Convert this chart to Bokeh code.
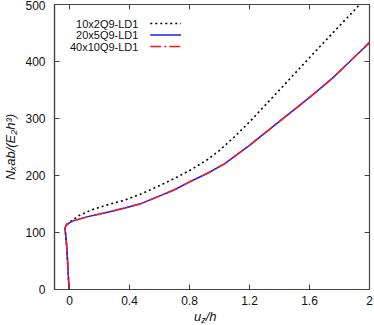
from bokeh.plotting import figure
from bokeh.models import Label, Arrow, FixedTicker, Range1d, Div
from bokeh.layouts import column
from bokeh.embed import file_html
from bokeh.resources import INLINE

# ---- data ----
series_names = ["10x2Q9-LD1", "20x5Q9-LD1", "40x10Q9-LD1"]

x_10x2 = [-0.003, -0.008, -0.013, -0.020, -0.027, -0.030, -0.020, 0.0, 0.065, 0.15, 0.26, 0.37, 0.48,
          0.59, 0.70, 0.81, 0.92, 1.0, 1.1, 1.2, 1.3, 1.414, 1.52, 1.633, 1.78, 1.935]
y_10x2 = [0, 25, 50, 80, 100, 107, 113, 118, 130, 140, 149, 157, 168,
          181, 195, 210, 228, 244, 268, 294, 322, 354, 384, 416, 457, 500]

x_20x5 = [-0.003, -0.008, -0.013, -0.020, -0.027, -0.030, -0.020, 0.02, 0.11, 0.26, 0.37, 0.48, 0.59,
          0.70, 0.81, 0.92, 1.03, 1.2, 1.414, 1.52, 1.633, 1.75, 1.853, 2.0]
y_20x5 = [0, 25, 50, 80, 100, 108, 114, 120, 127, 136, 143, 151, 163,
          175, 190, 204, 220, 253, 298, 320, 344, 370, 396, 433]

x_40x10 = [-0.003, -0.008, -0.013, -0.020, -0.027, -0.030, -0.020, 0.02, 0.11, 0.26, 0.37, 0.48, 0.59,
           0.70, 0.81, 0.92, 1.03, 1.2, 1.414, 1.52, 1.633, 1.75, 1.853, 2.0]
y_40x10 = [0, 25, 50, 80, 100, 108, 114, 120, 127, 136, 143, 151, 163,
           175, 190, 204, 220, 253, 298, 320, 344, 370, 396, 434]

x_ticks = [0, 0.4, 0.8, 1.2, 1.6, 2.0]
x_tick_labels = ["0", "0.4", "0.8", "1.2", "1.6", "2"]
y_ticks = [0, 100, 200, 300, 400, 500]
y_tick_labels = ["0", "100", "200", "300", "400", "500"]

x_label_main, x_label_sub, x_label_tail = "u", "z", "/h"
y_label = "Nₓab/(E₂h³)"

X0, X1, Y0, Y1 = -0.1, 2.0, 0, 500

# ---- styles ----
FONT = "Liberation Sans"
FRAME_COL = "#444444"
TXT = "#111111"
colors = ["#000000", "#1a1aff", "#ff1a1a"]
dashes = ["2 3", "solid", "11 3 2 3"]
widths = [1.6, 1.5, 1.5]

FW, FH = 319, 285  # frame size in px
ML, MR, MT, MB = 50, 5, 4, 20
TICK = 5


def dx(px):
    return X0 + px * (X1 - X0) / FW


def dy(py):
    return Y1 - py * (Y1 - Y0) / FH


p = figure(width=ML + FW + MR, height=MT + FH + MB,
           x_range=Range1d(X0, X1), y_range=Range1d(Y0, Y1),
           output_backend="svg", toolbar_location=None,
           min_border_left=ML, min_border_right=MR,
           min_border_top=MT, min_border_bottom=MB)
p.xgrid.visible = False
p.ygrid.visible = False
p.outline_line_color = FRAME_COL
p.outline_line_width = 1.2
p.background_fill_color = "white"
p.border_fill_color = "white"

for ax, ticks, labels in ((p.xaxis[0], x_ticks, x_tick_labels), (p.yaxis[0], y_ticks, y_tick_labels)):
    ax.ticker = FixedTicker(ticks=ticks)
    ax.major_label_overrides = {t: l for t, l in zip(ticks, labels)}
    ax.major_tick_in = TICK
    ax.major_tick_out = 0
    ax.minor_tick_line_color = None
    ax.axis_line_color = FRAME_COL
    ax.axis_line_width = 1.2
    ax.major_tick_line_color = FRAME_COL
    ax.major_label_text_font = FONT
    ax.major_label_text_font_size = "12px"
    ax.major_label_text_color = TXT
p.xaxis[0].major_label_standoff = 6
p.yaxis[0].major_label_standoff = 9

# y axis label (real text, unicode sub/superscripts)
p.yaxis[0].axis_label = y_label
p.yaxis[0].axis_label_text_font = FONT
p.yaxis[0].axis_label_text_font_size = "13px"
p.yaxis[0].axis_label_text_font_style = "italic"
p.yaxis[0].axis_label_text_color = TXT
p.yaxis[0].axis_label_standoff = 4

# mirrored inward ticks on top and right edges
p.segment(x0=x_ticks, y0=[Y1] * len(x_ticks), x1=x_ticks, y1=[dy(TICK)] * len(x_ticks),
          line_color=FRAME_COL, line_width=1)
p.segment(x0=[X1] * len(y_ticks), y0=y_ticks, x1=[dx(FW - TICK)] * len(y_ticks), y1=y_ticks,
          line_color=FRAME_COL, line_width=1)

# curves
for xs, ys, c, d, w in ((x_10x2, y_10x2, colors[0], dashes[0], widths[0]),
                        (x_20x5, y_20x5, colors[1], dashes[1], widths[1]),
                        (x_40x10, y_40x10, colors[2], dashes[2], widths[2])):
    p.line(xs, ys, line_color=c, line_dash=d, line_width=w, line_join="round")

# legend (text on the left, sample on the right)
rows = [19, 30.5, 42]
for name, c, d, w, r in zip(series_names, colors, dashes, widths, rows):
    p.add_layout(Label(x=dx(85), y=dy(r), text=name, text_align="right", text_baseline="middle",
                       text_font=FONT, text_font_size="11px", text_color=TXT))
    p.add_layout(Arrow(end=None, start=None, x_start=dx(97), y_start=dy(r), x_end=dx(128), y_end=dy(r),
                       line_color=c, line_dash=d, line_width=w))

# x axis label u_z/h as real HTML text below the figure
xlab = Div(
    text=(f'<span style="font-family:\'{FONT}\';font-size:13px;font-style:italic;color:{TXT};'
          f'line-height:13px;white-space:nowrap">{x_label_main}'
          f'<span style="font-size:9px;position:relative;top:2px">{x_label_sub}</span>{x_label_tail}</span>'),
    width=60, height=16, margin=(0, 0, 0, 194))

layout = column(p, xlab, spacing=0)
open("out.html", "w").write(file_html(layout, INLINE))
